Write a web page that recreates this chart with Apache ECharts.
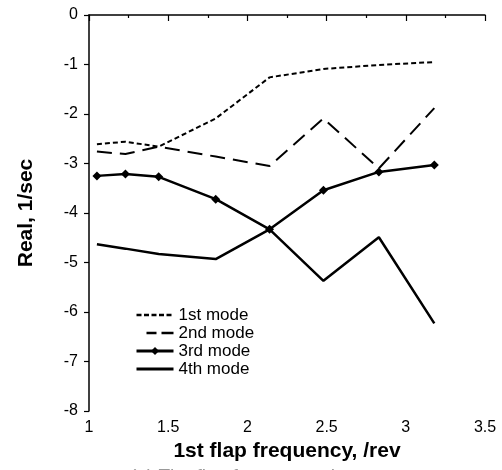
<!DOCTYPE html>
<html>
<head>
<meta charset="utf-8">
<script src="https://cdn.jsdelivr.net/npm/echarts@6/dist/echarts.min.js"></script>
<style>html,body{margin:0;padding:0;background:#fff;}#c{width:502px;height:470px;}</style>
</head>
<body>
<div id="c"></div>
<script>
const xValues = [1.05, 1.23, 1.44, 1.80, 2.14, 2.48, 2.83, 3.18];
const mode1 = [-2.61, -2.56, -2.66, -2.09, -1.26, -1.09, -1.01, -0.95];
const mode2 = [-2.76, -2.81, -2.66, -2.86, -3.05, -2.09, -3.10, -1.88];
const mode3 = [-3.25, -3.21, -3.27, -3.72, -4.33, -3.54, -3.17, -3.03];
const mode4 = [-4.63, -4.72, -4.83, -4.93, -4.33, -5.37, -4.49, -6.23];
const seriesNames = ['1st mode', '2nd mode', '3rd mode', '4th mode'];
const xTitle = '1st flap frequency, /rev';
const yTitle = 'Real, 1/sec';
const caption = '(a) The flap frequency changes';

const pairs = arr => xValues.map((x, i) => [x, arr[i]]);
const font = 'Liberation Sans, Arial, sans-serif';
const hidden = {opacity: 0};

const chart = echarts.init(document.getElementById('c'), null, {renderer: 'canvas'});
chart.setOption({
  animation: false,
  backgroundColor: '#fff',
  grid: {left: 89, right: 17, top: 15, bottom: 59},
  legend: {
    orient: 'vertical',
    left: 135, top: 306, padding: 0,
    itemWidth: 37, itemHeight: 10, itemGap: 0,
    textStyle: {fontFamily: font, fontSize: 17, lineHeight: 18, color: '#000'},
    data: [
      {name: seriesNames[0], itemStyle: hidden, lineStyle: {type: [5, 2.5], width: 2.5}},
      {name: seriesNames[1], itemStyle: hidden, lineStyle: {type: [0, 10, 10, 5, 12, 40], width: 2.5}},
      {name: seriesNames[2], lineStyle: {width: 3}},
      {name: seriesNames[3], itemStyle: hidden, lineStyle: {width: 3}}
    ]
  },
  xAxis: {
    type: 'value', min: 1, max: 3.5, interval: 0.5,
    name: xTitle, nameLocation: 'middle', nameGap: 28,
    nameTextStyle: {fontFamily: font, fontSize: 21, fontWeight: 'bold', color: '#000'},
    axisLine: {lineStyle: {color: '#000', width: 1.5}},
    axisTick: {inside: false, length: 6, lineStyle: {color: '#000', width: 1.2}},
    minorTick: {show: true, splitNumber: 2, length: 3, lineStyle: {color: '#000', width: 1.2}},
    axisLabel: {fontFamily: font, fontSize: 16, color: '#000', margin: 9},
    splitLine: {show: false}
  },
  yAxis: {
    type: 'value', min: -8, max: 0, interval: 1,
    name: yTitle, nameLocation: 'middle', nameGap: 52, nameRotate: 90,
    nameTextStyle: {fontFamily: font, fontSize: 21, fontWeight: 'bold', color: '#000'},
    axisLine: {show: true, lineStyle: {color: '#000', width: 1.5}},
    axisTick: {show: true, length: 5, lineStyle: {color: '#000', width: 1.2}},
    axisLabel: {fontFamily: font, fontSize: 16, color: '#000', margin: 11},
    splitLine: {show: false}
  },
  graphic: [{
    type: 'text', left: 130, top: 467,
    style: {text: caption, fontFamily: font, fontSize: 19, fill: '#999'}
  }],
  series: [
    {name: seriesNames[0], type: 'line', data: pairs(mode1), symbol: 'none',
     lineStyle: {color: '#000', width: 2, type: [5, 3]}, itemStyle: {color: '#000'}},
    {name: seriesNames[1], type: 'line', data: pairs(mode2), symbol: 'none',
     lineStyle: {color: '#000', width: 2, type: [15, 8]}, itemStyle: {color: '#000'}},
    {name: seriesNames[2], type: 'line', data: pairs(mode3), symbol: 'diamond', symbolSize: 9,
     lineStyle: {color: '#000', width: 2.5}, itemStyle: {color: '#000'}},
    {name: seriesNames[3], type: 'line', data: pairs(mode4), symbol: 'none',
     lineStyle: {color: '#000', width: 2.5}, itemStyle: {color: '#000'}}
  ]
});
</script>
</body>
</html>
